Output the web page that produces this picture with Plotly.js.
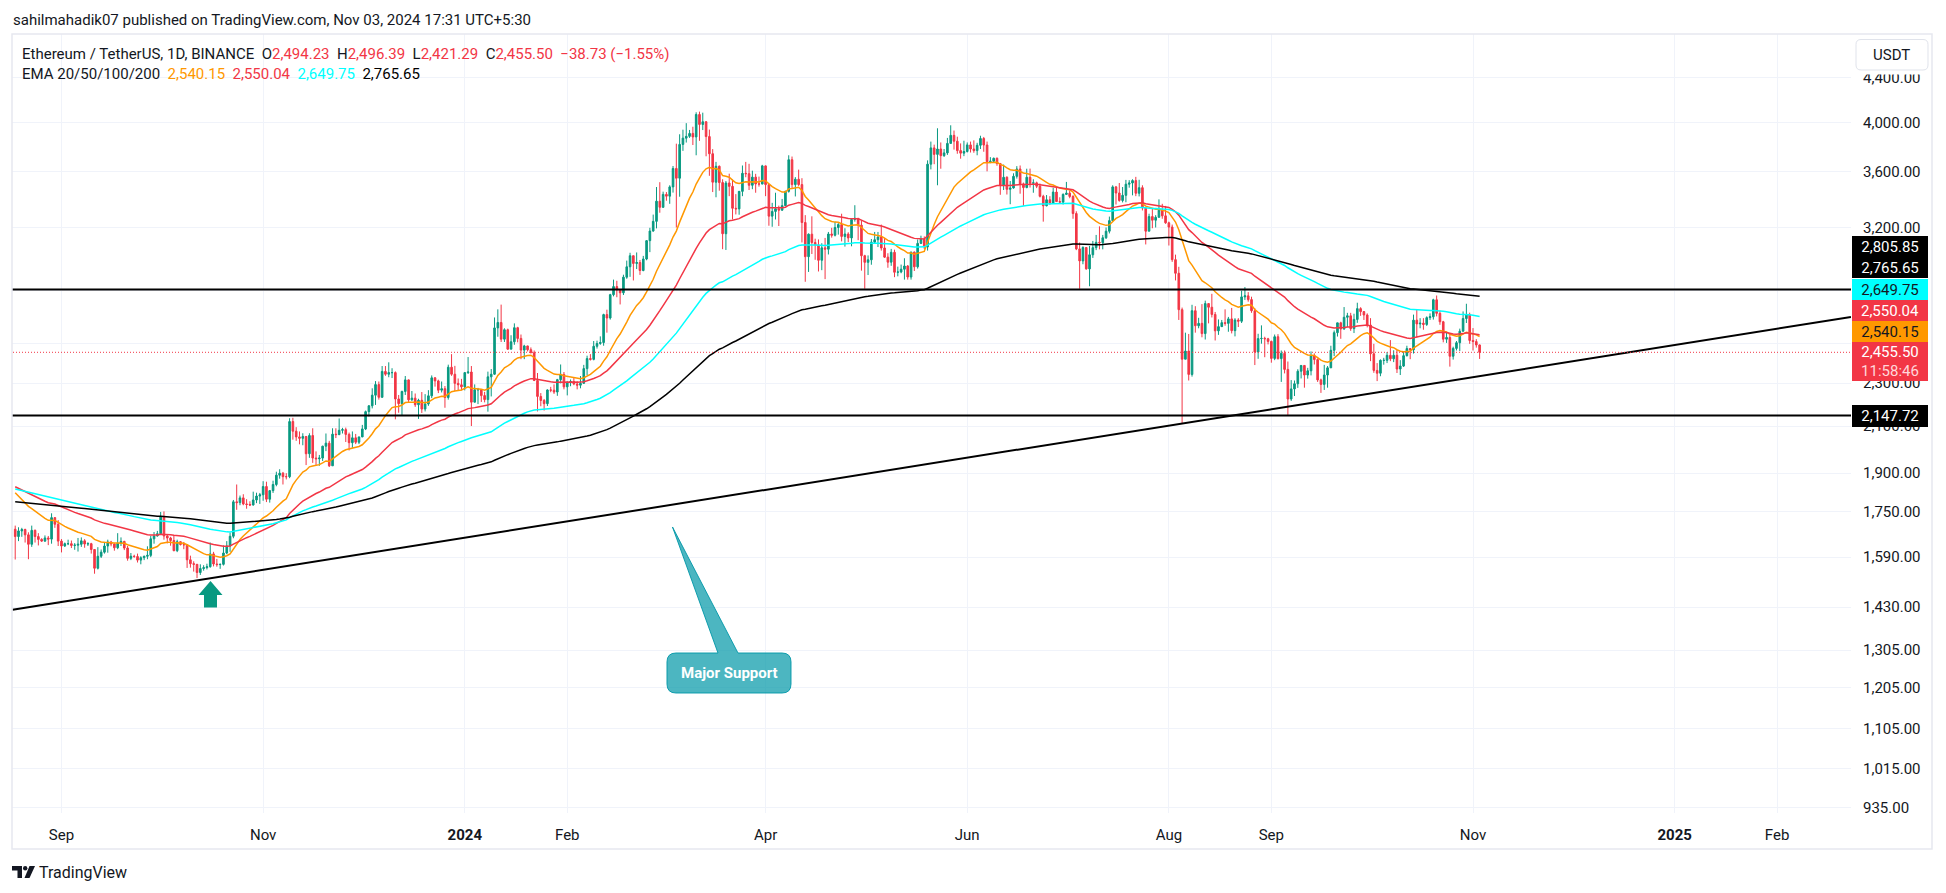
<!DOCTYPE html>
<html>
<head>
<meta charset="utf-8">
<script src="https://cdn.plot.ly/plotly-3.0.1.min.js"></script>
<style>
html,body{margin:0;padding:0;background:#ffffff;}
#chart{width:1946px;height:893px;}
</style>
</head>
<body>
<div id="chart"></div>
<script>
// ---------------- DATA (daily ETH/USDT) ----------------
const startDate = [2023, 7, 18];          // first candle: 18 Aug 2023 (UTC)
const firstOpen = 1687;
const closes = [
/*Aug23*/ 1661,1681,1686,1667,1634,1683,1661,1651,1645,1656,1652,1729,1705,1645,
/*Sep23*/ 1628,1636,1636,1630,1631,1634,1646,1635,1636,1616,1553,1593,1607,1628,1642,1635,1622,1638,1644,1621,1586,1593,1592,1580,1588,1593,1596,1653,1663,1671,
/*Oct23*/ 1733,1663,1656,1647,1612,1643,1633,1632,1581,1568,1566,1539,1552,1555,1558,1601,1567,1565,1566,1604,1628,1662,1788,1785,1803,1780,1778,1776,1795,1810,1815,
/*Nov23*/ 1847,1798,1831,1855,1892,1900,1886,1886,2120,2077,2052,2046,2054,1980,2058,1962,1959,1962,2012,2025,1930,2064,2062,2081,2084,2063,2027,2048,2029,2052,
/*Dec23*/ 2087,2165,2192,2242,2293,2232,2358,2344,2352,2352,2224,2202,2260,2316,2220,2228,2197,2218,2177,2201,2239,2326,2311,2266,2273,2231,2379,2344,2299,2292,2282,
/*Jan24*/ 2352,2355,2209,2268,2268,2240,2221,2331,2344,2586,2616,2525,2576,2472,2511,2587,2529,2467,2489,2469,2453,2313,2236,2217,2202,2267,2266,2257,2317,2343,2282,
/*Feb24*/ 2304,2308,2296,2290,2299,2372,2423,2419,2487,2502,2507,2660,2641,2775,2823,2803,2786,2880,2944,3014,2965,2971,2921,2993,3112,3176,3242,3384,3340,
/*Mar24*/ 3433,3420,3488,3627,3553,3817,3868,3883,3907,3878,4067,3982,4005,3881,3742,3523,3644,3520,3158,3517,3492,3333,3329,3455,3590,3587,3500,3561,3510,3509,3647,
/*Apr24*/ 3505,3278,3311,3330,3320,3352,3455,3695,3505,3545,3505,3234,3008,3155,3100,3084,2985,3065,3056,3156,3148,3200,3220,3140,3156,3130,3255,3263,3216,3014,
/*May24*/ 2972,2988,3102,3118,3136,3064,3005,2973,3036,2910,2912,2929,2949,2881,3037,2944,3094,3122,3071,3660,3789,3737,3780,3727,3749,3825,3891,3843,3767,3747,3760,
/*Jun24*/ 3813,3780,3767,3810,3865,3812,3679,3683,3706,3665,3498,3560,3470,3480,3567,3623,3510,3483,3560,3515,3518,3493,3419,3351,3394,3371,3450,3381,3377,3433,
/*Jul24*/ 3442,3418,3296,3058,2981,3067,2931,3020,3066,3101,3098,3131,3175,3247,3488,3443,3389,3426,3508,3517,3535,3441,3482,3336,3175,3275,3250,3270,3320,3280,3232,
/*Aug24*/ 3203,2989,2904,2688,2420,2462,2343,2682,2598,2611,2555,2723,2702,2661,2570,2593,2615,2611,2636,2571,2630,2623,2762,2768,2746,2682,2457,2528,2529,2527,2513,
/*Sep24*/ 2424,2538,2423,2450,2368,2224,2272,2297,2359,2388,2340,2361,2438,2418,2316,2294,2340,2376,2466,2560,2614,2580,2645,2653,2582,2633,2694,2677,2658,2602,
/*Oct24*/ 2448,2363,2349,2414,2414,2440,2422,2440,2370,2385,2438,2475,2468,2629,2608,2612,2605,2643,2648,2745,2667,2620,2525,2534,2435,2476,2506,2568,2638,2659,2518,
/*Nov24*/ 2512,2494.23,2455.50
];
const highs = [
/*Aug23*/ 1700,1694,1692,1689,1676,1700,1686,1673,1655,1665,1663,1745,1731,1720,
/*Sep23*/ 1652,1640,1650,1647,1638,1656,1658,1652,1641,1639,1617,1624,1616,1642,1650,1646,1638,1673,1658,1646,1628,1604,1598,1602,1593,1595,1627,1663,1677,1681,
/*Oct23*/ 1750,1752,1670,1660,1665,1650,1645,1642,1634,1595,1576,1567,1566,1563,1568,1640,1608,1584,1568,1630,1645,1675,1795,1855,1812,1817,1798,1790,1827,1823,1822,
/*Nov23*/ 1868,1866,1833,1870,1906,1916,1905,1900,2135,2137,2095,2076,2068,2056,2068,2090,1990,1975,2014,2067,2035,2090,2090,2134,2092,2093,2071,2076,2065,2053,
/*Dec23*/ 2105,2170,2195,2275,2310,2308,2385,2385,2404,2374,2358,2243,2263,2335,2318,2262,2250,2225,2257,2247,2266,2338,2330,2317,2308,2286,2392,2446,2386,2323,2321,
/*Jan24*/ 2353,2431,2385,2294,2277,2270,2258,2357,2370,2644,2690,2717,2584,2582,2546,2611,2592,2550,2495,2490,2481,2465,2350,2252,2224,2270,2282,2294,2321,2393,2355,
/*Feb24*/ 2309,2318,2325,2310,2335,2391,2438,2446,2515,2517,2540,2665,2688,2780,2865,2858,2807,2895,2983,3033,3015,3035,2987,3013,3115,3198,3289,3487,3523,
/*Mar24*/ 3453,3450,3500,3646,3823,3900,3938,3993,3936,3963,4086,4092,4083,4010,3939,3779,3678,3650,3545,3532,3587,3543,3435,3458,3650,3678,3663,3610,3586,3565,3655,
/*Apr24*/ 3650,3508,3372,3445,3352,3400,3460,3730,3720,3561,3618,3553,3285,3160,3277,3125,3120,3095,3130,3170,3198,3240,3230,3295,3195,3168,3260,3355,3240,3250,
/*May24*/ 3020,3016,3123,3170,3170,3220,3130,3030,3058,3053,2945,2958,2998,2955,3040,3041,3120,3145,3140,3690,3840,3815,3950,3833,3780,3870,3975,3931,3880,3825,3847,
/*Jun24*/ 3833,3840,3850,3830,3888,3878,3840,3715,3712,3713,3670,3657,3567,3532,3590,3645,3650,3520,3625,3626,3545,3527,3513,3430,3428,3420,3481,3490,3412,3440,
/*Jul24*/ 3525,3462,3427,3312,3100,3075,3070,3077,3110,3150,3208,3150,3200,3275,3500,3495,3517,3487,3540,3538,3545,3563,3541,3500,3343,3295,3328,3285,3397,3365,3350,
/*Aug24*/ 3240,3220,3021,2944,2700,2560,2553,2716,2708,2642,2720,2740,2725,2780,2675,2633,2630,2690,2647,2698,2640,2640,2798,2820,2790,2763,2696,2554,2600,2538,2532,
/*Sep24*/ 2517,2550,2552,2465,2465,2408,2315,2313,2369,2390,2390,2376,2460,2450,2424,2322,2391,2385,2490,2572,2614,2620,2703,2670,2670,2665,2728,2702,2680,2667,
/*Oct24*/ 2640,2500,2400,2419,2427,2457,2520,2466,2468,2415,2460,2490,2478,2660,2689,2640,2640,2650,2667,2751,2770,2683,2625,2562,2556,2485,2515,2582,2678,2722,2671,
/*Nov24*/ 2585,2525,2496.39
];
const lows = [
/*Aug23*/ 1582,1645,1660,1640,1583,1625,1640,1630,1642,1642,1631,1636,1692,1628,
/*Sep23*/ 1606,1625,1631,1621,1615,1609,1625,1622,1628,1602,1535,1549,1587,1602,1605,1627,1612,1617,1628,1614,1578,1580,1588,1572,1566,1580,1583,1590,1636,1661,
/*Oct23*/ 1670,1650,1637,1629,1610,1607,1630,1617,1554,1555,1542,1521,1531,1545,1549,1555,1559,1558,1551,1562,1600,1608,1655,1758,1775,1775,1762,1772,1774,1783,1780,
/*Nov23*/ 1792,1787,1785,1822,1848,1878,1855,1875,1880,2040,2035,2020,2016,1933,1963,1942,1931,1930,1950,1991,1925,1930,2047,2060,2067,2030,1994,2005,2021,2021,
/*Dec23*/ 2051,2082,2143,2180,2196,2221,2230,2336,2329,2325,2130,2160,2146,2243,2210,2215,2187,2132,2159,2166,2192,2228,2283,2252,2255,2183,2221,2336,2262,2265,2265,
/*Jan24*/ 2265,2345,2100,2208,2200,2210,2208,2165,2236,2341,2538,2510,2510,2469,2472,2495,2508,2420,2420,2460,2451,2310,2166,2190,2170,2191,2256,2248,2239,2299,2270,
/*Feb24*/ 2241,2285,2290,2270,2275,2298,2340,2413,2414,2475,2495,2490,2560,2632,2765,2760,2718,2773,2870,2882,2860,2930,2894,2916,2985,3037,3172,3194,3302,
/*Mar24*/ 3337,3387,3365,3446,3200,3416,3765,3832,3870,3812,3730,3846,3935,3722,3571,3450,3412,3460,3056,3051,3420,3255,3290,3288,3420,3560,3465,3471,3445,3490,3508,
/*Apr24*/ 3420,3212,3205,3255,3210,3316,3350,3446,3480,3418,3495,3100,2852,2912,3025,2988,2915,2923,2868,3022,3132,3140,3152,3107,3073,3103,3075,3240,3115,2920,
/*May24*/ 2810,2893,2957,3096,3070,3047,3000,2938,2950,2880,2885,2904,2865,2865,2865,2918,2933,3090,3057,3047,3620,3660,3500,3625,3717,3733,3825,3775,3742,3703,3723,
/*Jun24*/ 3752,3752,3750,3730,3780,3758,3605,3668,3670,3648,3430,3465,3432,3362,3475,3550,3438,3350,3478,3483,3445,3479,3411,3240,3347,3357,3370,3378,3373,3360,
/*Jul24*/ 3430,3405,3260,3050,2810,2960,2926,2825,3000,3050,3055,3055,3123,3160,3243,3360,3380,3375,3376,3482,3426,3420,3418,3318,3087,3175,3195,3200,3268,3260,3225,
/*Aug24*/ 3080,2975,2860,2630,2111,2420,2313,2332,2560,2584,2535,2523,2611,2644,2518,2548,2591,2598,2565,2556,2540,2591,2613,2744,2734,2670,2390,2422,2501,2430,2497,
/*Sep24*/ 2402,2415,2418,2306,2348,2150,2215,2238,2277,2323,2278,2322,2338,2393,2306,2253,2267,2278,2378,2436,2539,2527,2576,2591,2570,2558,2614,2653,2630,2589,
/*Oct24*/ 2410,2351,2310,2334,2392,2400,2410,2405,2350,2340,2380,2434,2420,2449,2533,2584,2576,2597,2630,2632,2650,2603,2508,2505,2382,2418,2465,2462,2565,2613,2500,
/*Nov24*/ 2465,2480,2421.29
];

// EMA study: periods, starting values read at the left edge, header values
const emaPeriods = [20, 50, 100, 200];
const emaSeeds   = [1823, 1846, 1837, 1788];
const emaLast    = [2540.15, 2550.04, 2649.75, 2765.65];
const emaColors  = ['#FF9800', '#F23645', '#00FFFF', '#000000'];

// Drawings
const levelPrices = [2805.85, 2147.72];
const trendDates  = ['2023-08-17 05:00', '2025-02-23 08:00'];
const trendPrices = [1422, 2647];
const lastPrice   = 2455.50;
const lastChange  = -38.73;
const lastChangePct = -1.55;
const countdown   = '11:58:46';

// Axis ticks (labels at 2,800 and 2,500 are fully hidden behind the price-scale boxes in the reference)
const yTickVals = [935, 1015, 1105, 1205, 1305, 1430, 1590, 1750, 1900, 2100, 2300, 2500, 2800, 3200, 3600, 4000, 4400];
const yTickHidden = [2500, 2800];
const xTickVals = ['2023-09-01','2023-11-01','2024-01-01','2024-02-01','2024-04-01','2024-06-01','2024-08-01','2024-09-01','2024-11-01','2025-01-01','2025-02-01'];
const xTickText = ['Sep','Nov','<b>2024</b>','Feb','Apr','Jun','Aug','Sep','Nov','<b>2025</b>','Feb'];

// ---------------- BUILD ----------------
const UP = '#089981', DOWN = '#F23645', TXT = '#131722';
const fmt = v => v.toLocaleString('en-US', {minimumFractionDigits: 2, maximumFractionDigits: 2});
const dates = closes.map((_, i) => new Date(Date.UTC(startDate[0], startDate[1], startDate[2] + i)).toISOString().slice(0, 10));
const opens = closes.map((_, i) => i === 0 ? firstOpen : closes[i - 1]);

function ema(src, n, seed) {
  const k = 2 / (n + 1);
  const out = [seed];
  let v = seed;
  for (let i = 1; i < src.length; i++) { v = v + k * (src[i] - v); out.push(v); }
  return out;
}

const X0 = '2023-08-17 00:43', X1 = '2025-02-23 08:24';
const traces = [];
traces.push({
  type: 'candlestick', x: dates, open: opens, high: highs, low: lows, close: closes,
  increasing: {line: {color: UP, width: 1}, fillcolor: UP},
  decreasing: {line: {color: DOWN, width: 1}, fillcolor: DOWN},
  whiskerwidth: 0, hoverinfo: 'skip', showlegend: false
});
emaPeriods.forEach((n, j) => {
  traces.push({type: 'scatter', mode: 'lines', x: dates, y: ema(closes, n, emaSeeds[j]),
    line: {color: emaColors[j], width: 1.5}, hoverinfo: 'skip', showlegend: false});
});
levelPrices.forEach(p => {
  traces.push({type: 'scatter', mode: 'lines', x: ['2023-08-01', '2025-03-10'], y: [p, p],
    line: {color: '#000000', width: 2}, hoverinfo: 'skip', showlegend: false});
});
traces.push({type: 'scatter', mode: 'lines', x: trendDates, y: trendPrices,
  line: {color: '#000000', width: 2}, hoverinfo: 'skip', showlegend: false});
traces.push({type: 'scatter', mode: 'lines', x: ['2023-08-01', '2025-03-10'], y: [lastPrice, lastPrice],
  line: {color: DOWN, width: 1, dash: '1px,2px'}, hoverinfo: 'skip', showlegend: false});

// ---------------- LAYOUT ----------------
const W = 1946, H = 893;
const L = 12, R = 1851, T = 34, B = 813;
const px = X => (X - L) / (R - L);
const py = Y => (B - Y) / (B - T);
const P = (X, Y) => px(X).toFixed(5) + ',' + py(Y).toFixed(5);

function roundRect(x0, y0, x1, y1, r) {
  return 'M' + P(x0 + r, y0) + ' L' + P(x1 - r, y0) + ' Q' + P(x1, y0) + ' ' + P(x1, y0 + r) +
    ' L' + P(x1, y1 - r) + ' Q' + P(x1, y1) + ' ' + P(x1 - r, y1) +
    ' L' + P(x0 + r, y1) + ' Q' + P(x0, y1) + ' ' + P(x0, y1 - r) +
    ' L' + P(x0, y0 + r) + ' Q' + P(x0, y0) + ' ' + P(x0 + r, y0) + ' Z';
}
// callout with pointer
const cb = {x0: 667, y0: 653, x1: 791, y1: 693, r: 9};
const calloutPath = 'M' + P(cb.x0 + cb.r, cb.y0) + ' L' + P(718, cb.y0) + ' L' + P(672.5, 527) + ' L' + P(738, cb.y0) +
  ' L' + P(cb.x1 - cb.r, cb.y0) + ' Q' + P(cb.x1, cb.y0) + ' ' + P(cb.x1, cb.y0 + cb.r) +
  ' L' + P(cb.x1, cb.y1 - cb.r) + ' Q' + P(cb.x1, cb.y1) + ' ' + P(cb.x1 - cb.r, cb.y1) +
  ' L' + P(cb.x0 + cb.r, cb.y1) + ' Q' + P(cb.x0, cb.y1) + ' ' + P(cb.x0, cb.y1 - cb.r) +
  ' L' + P(cb.x0, cb.y0 + cb.r) + ' Q' + P(cb.x0, cb.y0) + ' ' + P(cb.x0 + cb.r, cb.y0) + ' Z';
const arrowPath = 'M' + P(210.5, 581) + ' L' + P(222.5, 595) + ' L' + P(217, 595) + ' L' + P(217, 607.5) +
  ' L' + P(204, 607.5) + ' L' + P(204, 595) + ' L' + P(198.5, 595) + ' Z';

const shapes = [
  {type: 'rect', xref: 'paper', yref: 'paper', x0: px(1852), x1: px(1931), y0: py(74.5), y1: py(35),
    fillcolor: '#ffffff', line: {width: 0}, layer: 'above'},
  {type: 'path', xref: 'paper', yref: 'paper', path: roundRect(1856, 39.5, 1928, 70, 5),
    fillcolor: '#ffffff', line: {color: '#e0e3eb', width: 1}, layer: 'above'},
  {type: 'rect', xref: 'paper', yref: 'paper', x0: px(12), x1: px(1932), y0: py(849), y1: py(34),
    fillcolor: 'rgba(0,0,0,0)', line: {color: '#e6e8ef', width: 1.5}, layer: 'above'},
  {type: 'path', xref: 'paper', yref: 'paper', path: calloutPath,
    fillcolor: 'rgba(0,151,167,0.7)', line: {color: 'rgba(0,151,167,0.9)', width: 1}, layer: 'above'},
  {type: 'path', xref: 'paper', yref: 'paper', path: arrowPath,
    fillcolor: UP, line: {width: 0}, layer: 'above'},
  // TradingView logo
  {type: 'path', xref: 'paper', yref: 'paper',
    path: 'M' + P(12, 866) + ' L' + P(22, 866) + ' L' + P(22, 878) + ' L' + P(17.5, 878) + ' L' + P(17.5, 870.5) + ' L' + P(12, 870.5) + ' Z',
    fillcolor: TXT, line: {width: 0}, layer: 'above'},
  {type: 'circle', xref: 'paper', yref: 'paper', x0: px(23), x1: px(27.4), y0: py(870.4), y1: py(866),
    fillcolor: TXT, line: {width: 0}, layer: 'above'},
  {type: 'path', xref: 'paper', yref: 'paper',
    path: 'M' + P(29.5, 866) + ' L' + P(35, 866) + ' L' + P(29.5, 878) + ' L' + P(24.5, 878) + ' Z',
    fillcolor: TXT, line: {width: 0}, layer: 'above'}
];

const red = s => '<span style="color:' + DOWN + '">' + s + '</span>';
const col = (s, c) => '<span style="color:' + c + '">' + s + '</span>';
const sp = '\u00A0\u00A0';
const n = closes.length - 1;
const line2 = 'Ethereum / TetherUS, 1D, BINANCE' + sp + 'O' + red(fmt(opens[n])) + sp + 'H' + red(fmt(highs[n])) + sp +
  'L' + red(fmt(lows[n])) + sp + 'C' + red(fmt(closes[n])) + sp +
  red('\u2212' + fmt(Math.abs(lastChange)) + ' (\u2212' + fmt(Math.abs(lastChangePct)) + '%)');
const line3 = 'EMA 20/50/100/200' + sp + emaLast.map((v, j) => col(fmt(v), emaColors[j])).join(sp);

const ann = [];
function textAnn(text, X, Y, size, color, extra) {
  ann.push(Object.assign({text: text, x: px(X), y: py(Y), xref: 'paper', yref: 'paper', xanchor: 'left', yanchor: 'middle',
    showarrow: false, borderpad: 0, borderwidth: 0, font: {size: size, color: color, family: 'Roboto, sans-serif'}}, extra || {}));
}
textAnn('sahilmahadik07 published on TradingView.com, Nov 03, 2024 17:31 UTC+5:30', 13, 20, 15, TXT);
textAnn(line2, 22, 53.5, 15, TXT);
textAnn(line3, 22, 74.5, 15, TXT);
textAnn('TradingView', 39, 872, 16, TXT);
textAnn('USDT', 1873, 55, 15, TXT);
ann.push({text: '<b>Major Support</b>', x: px((cb.x0 + cb.x1) / 2), y: py((cb.y0 + cb.y1) / 2), xref: 'paper', yref: 'paper',
  xanchor: 'center', yanchor: 'middle', showarrow: false, font: {size: 15, color: '#ffffff', family: 'Roboto, sans-serif'}});

function box(text, top, bottom, bg, fg) {
  ann.push({text: text, x: px(1852), y: py((top + bottom) / 2), xref: 'paper', yref: 'paper', xanchor: 'left', yanchor: 'middle',
    width: 76, height: bottom - top, bgcolor: bg, borderpad: 0, borderwidth: 0, showarrow: false, align: 'center', valign: 'middle',
    font: {size: 15, color: fg, family: 'Roboto, sans-serif'}});
}
box(fmt(levelPrices[0]), 236, 257, '#000000', '#ffffff');
box(fmt(emaLast[3]), 257, 278, '#000000', '#ffffff');
box(fmt(emaLast[2]), 279, 300, emaColors[2], TXT);
box(fmt(emaLast[1]), 300, 321, emaColors[1], '#ffffff');
box(fmt(emaLast[0]), 321, 342, emaColors[0], TXT);
box(fmt(lastPrice) + '<br><span style="color:#ffd6da">' + countdown + '</span>', 342, 381, DOWN, '#ffffff');
box(fmt(levelPrices[1]), 405, 426.5, '#000000', '#ffffff');

const layout = {
  width: W, height: H,
  margin: {l: L, r: W - R, t: T, b: H - B, pad: 0},
  paper_bgcolor: '#ffffff', plot_bgcolor: '#ffffff',
  showlegend: false, dragmode: false,
  font: {family: 'Roboto, sans-serif', size: 15, color: TXT},
  xaxis: {type: 'date', range: [X0, X1], tickmode: 'array', tickvals: xTickVals, ticktext: xTickText,
    showgrid: true, gridcolor: '#f0f3fa', gridwidth: 1, zeroline: false, showline: false,
    ticks: 'outside', ticklen: 8, tickcolor: 'rgba(0,0,0,0)', tickfont: {size: 15, color: TXT},
    rangeslider: {visible: false}, fixedrange: true},
  yaxis: {type: 'log', side: 'right', range: [Math.log10(923.9), Math.log10(4824.6)], tickmode: 'array',
    tickvals: yTickVals, ticktext: yTickVals.map(v => yTickHidden.includes(v) ? '' : fmt(v)),
    showgrid: true, gridcolor: '#f0f3fa', gridwidth: 1, zeroline: false, showline: false,
    ticks: 'outside', ticklen: 8, tickcolor: 'rgba(0,0,0,0)', tickfont: {size: 15, color: TXT}, fixedrange: true},
  shapes: shapes,
  annotations: ann
};

Plotly.newPlot('chart', traces, layout, {staticPlot: true, displayModeBar: false});
</script>
</body>
</html>
